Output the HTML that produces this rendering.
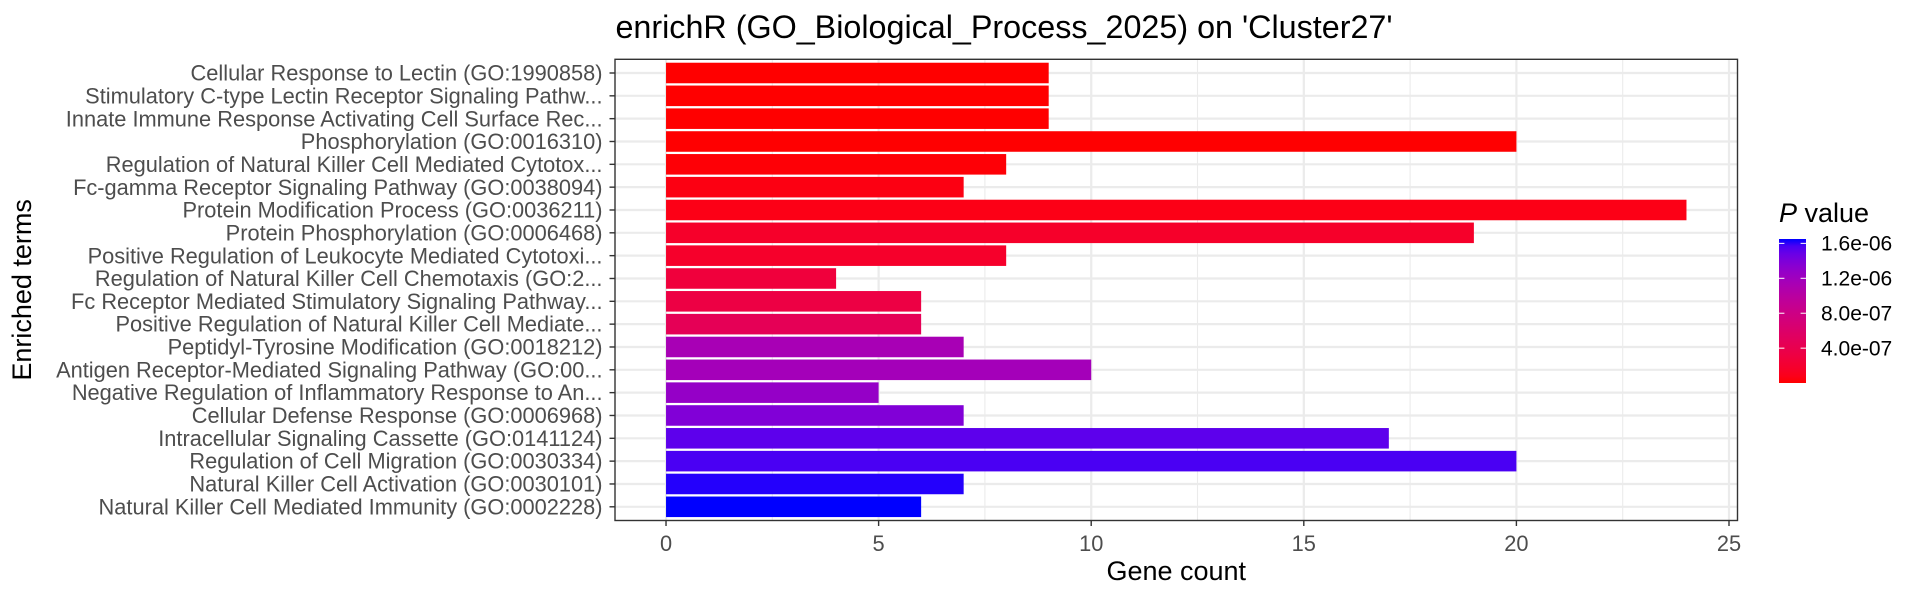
<!DOCTYPE html>
<html><head><meta charset="utf-8"><style>
html,body{margin:0;padding:0;background:#fff;}
svg{display:block;font-family:"Liberation Sans",Arial,sans-serif;}
</style></head><body>
<svg id="chart" width="1920" height="600" viewBox="0 0 1920 600" xmlns="http://www.w3.org/2000/svg">
<rect x="0" y="0" width="1920" height="600" fill="#fff"/>
<text x="1004" y="38" font-size="32.3" text-anchor="middle" fill="#000">enrichR (GO_Biological_Process_2025) on 'Cluster27'</text>
<g id="grid"></g><g id="bars"></g><g id="axes"></g><g id="legend"></g>
</svg>
<script>
const terms = ["Cellular Response to Lectin (GO:1990858)","Stimulatory C-type Lectin Receptor Signaling Pathw...","Innate Immune Response Activating Cell Surface Rec...","Phosphorylation (GO:0016310)","Regulation of Natural Killer Cell Mediated Cytotox...","Fc-gamma Receptor Signaling Pathway (GO:0038094)","Protein Modification Process (GO:0036211)","Protein Phosphorylation (GO:0006468)","Positive Regulation of Leukocyte Mediated Cytotoxi...","Regulation of Natural Killer Cell Chemotaxis (GO:2...","Fc Receptor Mediated Stimulatory Signaling Pathway...","Positive Regulation of Natural Killer Cell Mediate...","Peptidyl-Tyrosine Modification (GO:0018212)","Antigen Receptor-Mediated Signaling Pathway (GO:00...","Negative Regulation of Inflammatory Response to An...","Cellular Defense Response (GO:0006968)","Intracellular Signaling Cassette (GO:0141124)","Regulation of Cell Migration (GO:0030334)","Natural Killer Cell Activation (GO:0030101)","Natural Killer Cell Mediated Immunity (GO:0002228)"];
const counts = [9,9,9,20,8,7,24,19,8,4,6,6,7,10,5,7,17,20,7,6];
const pvalues = [1e-9,1e-9,2e-9,4e-9,1.6e-8,5e-8,6.5e-8,1.65e-7,1.7e-7,2.8e-7,3.3e-7,4.6e-7,1.14e-6,1.17e-6,1.27e-6,1.38e-6,1.52e-6,1.57e-6,1.63e-6,1.65e-6];
const xTicks = [0,5,10,15,20,25];
const xMinor = [2.5,7.5,12.5,17.5,22.5];
const legendTicks = [4e-7,8e-7,1.2e-6,1.6e-6];
const legendLabels = ["4.0e-07","8.0e-07","1.2e-06","1.6e-06"];

const NS="http://www.w3.org/2000/svg";
const PL=615,PR=1737.5,PT=59.3,PB=520.5;
const xMin=-1.2, xMax=Math.max(...counts)*1.05;
const xs=v=>PL+(v-xMin)/(xMax-xMin)*(PR-PL);
const n=terms.length;
const step=(PB-PT)/(n-1+1.2);
const ys=i=>PT+0.6*step+i*step;
function mk(tag,attrs,parent){const e=document.createElementNS(NS,tag);for(const k in attrs)e.setAttribute(k,attrs[k]);parent.appendChild(e);return e;}
function toLin(c){c/=255;return c<=0.04045?c/12.92:Math.pow((c+0.055)/1.055,2.4);}
function toLab(r,g,b){r=toLin(r);g=toLin(g);b=toLin(b);let X=(r*0.4124+g*0.3576+b*0.1805)/0.95047,Y=r*0.2126+g*0.7152+b*0.0722,Z=(r*0.0193+g*0.1192+b*0.9505)/1.08883;const f=t=>t>0.008856?Math.cbrt(t):7.787*t+16/116;X=f(X);Y=f(Y);Z=f(Z);return[116*Y-16,500*(X-Y),200*(Y-Z)];}
function fromLab(L,a,bb){let Y=(L+16)/116,X=a/500+Y,Z=Y-bb/200;const fi=t=>t*t*t>0.008856?t*t*t:(t-16/116)/7.787;X=fi(X)*0.95047;Y=fi(Y);Z=fi(Z)*1.08883;let r=X*3.2406+Y*-1.5372+Z*-0.4986,g=X*-0.9689+Y*1.8758+Z*0.0415,b=X*0.0557+Y*-0.2040+Z*1.0570;const gm=c=>{c=c<=0.0031308?12.92*c:1.055*Math.pow(c,1/2.4)-0.055;return Math.round(Math.max(0,Math.min(1,c))*255);};return`rgb(${gm(r)},${gm(g)},${gm(b)})`;}
const labR=toLab(255,0,0),labB=toLab(0,0,255);
const pMin=Math.min(...pvalues),pMax=Math.max(...pvalues);
function col(p){const t=Math.max(0,Math.min(1,(p-pMin)/(pMax-pMin)));return fromLab(labR[0]+(labB[0]-labR[0])*t,labR[1]+(labB[1]-labR[1])*t,labR[2]+(labB[2]-labR[2])*t);}

const grid=document.getElementById('grid');
mk('rect',{x:PL,y:PT,width:PR-PL,height:PB-PT,fill:'#fff'},grid);
xMinor.forEach(v=>{const l=mk('line',{x1:xs(v),x2:xs(v),y1:PT,y2:PB,stroke:'#EBEBEB','stroke-width':1.1},grid);

});
xTicks.forEach(v=>{const l=mk('line',{x1:xs(v),x2:xs(v),y1:PT,y2:PB,stroke:'#EBEBEB','stroke-width':2.2},grid);

});
terms.forEach((t,i)=>{const l=mk('line',{x1:PL,x2:PR,y1:ys(i),y2:ys(i),stroke:'#EBEBEB','stroke-width':2.2},grid);

});

const bars=document.getElementById('bars');
terms.forEach((t,i)=>{const h=step*0.9;
const r=mk('rect',{x:xs(0),y:ys(i)-h/2,width:xs(counts[i])-xs(0),height:h,fill:col(pvalues[i])},bars);

});

const axes=document.getElementById('axes');
mk('rect',{x:PL,y:PT,width:PR-PL,height:PB-PT,fill:'none',stroke:'#333','stroke-width':1.4},axes);
terms.forEach((t,i)=>{mk('line',{x1:PL-5.5,x2:PL,y1:ys(i),y2:ys(i),stroke:'#333','stroke-width':1.4},axes);
const tx=mk('text',{x:PL-12.5,y:ys(i)+7.6,'font-size':21.8,'text-anchor':'end',fill:'#4D4D4D'},axes);tx.textContent=t;

});
xTicks.forEach(v=>{mk('line',{x1:xs(v),x2:xs(v),y1:PB,y2:PB+5.5,stroke:'#333','stroke-width':1.4},axes);
const tx=mk('text',{x:xs(v),y:551,'font-size':21.8,'text-anchor':'middle',fill:'#4D4D4D'},axes);tx.textContent=v;

});
const xt=mk('text',{x:(PL+PR)/2,y:580,'font-size':27,'text-anchor':'middle',fill:'#000'},axes);xt.textContent='Gene count';


const yt=mk('text',{x:0,y:0,'font-size':27,'text-anchor':'middle',fill:'#000',transform:'translate(31,'+((PT+PB)/2)+') rotate(-90)'},axes);yt.textContent='Enriched terms';



const lg=document.getElementById('legend');
const LX=1779,LW=27,LT=239,LB=383;
const lt=mk('text',{x:LX,y:222,'font-size':27,fill:'#000'},lg);
lt.innerHTML='<tspan font-style="italic">P</tspan> value';


const defs=mk('defs',{},lg);const gr=mk('linearGradient',{id:'pg',x1:0,y1:1,x2:0,y2:0},defs);
for(let k=0;k<=20;k++){const p=pMin+(pMax-pMin)*k/20;mk('stop',{offset:(k/20),'stop-color':col(p)},gr);}
const cb=mk('rect',{x:LX,y:LT,width:LW,height:LB-LT,fill:'url(#pg)'},lg);


const ly=p=>LB-(p-pMin)/(pMax-pMin)*(LB-LT);
legendTicks.forEach((p,k)=>{const y=ly(p);
mk('line',{x1:LX,x2:LX+5.4,y1:y,y2:y,stroke:'#fff','stroke-width':1},lg);
mk('line',{x1:LX+LW-5.4,x2:LX+LW,y1:y,y2:y,stroke:'#fff','stroke-width':1},lg);
const tx=mk('text',{x:1821,y:y+7.3,'font-size':21,fill:'#000'},lg);tx.textContent=legendLabels[k];

});
</script>
</body></html>
